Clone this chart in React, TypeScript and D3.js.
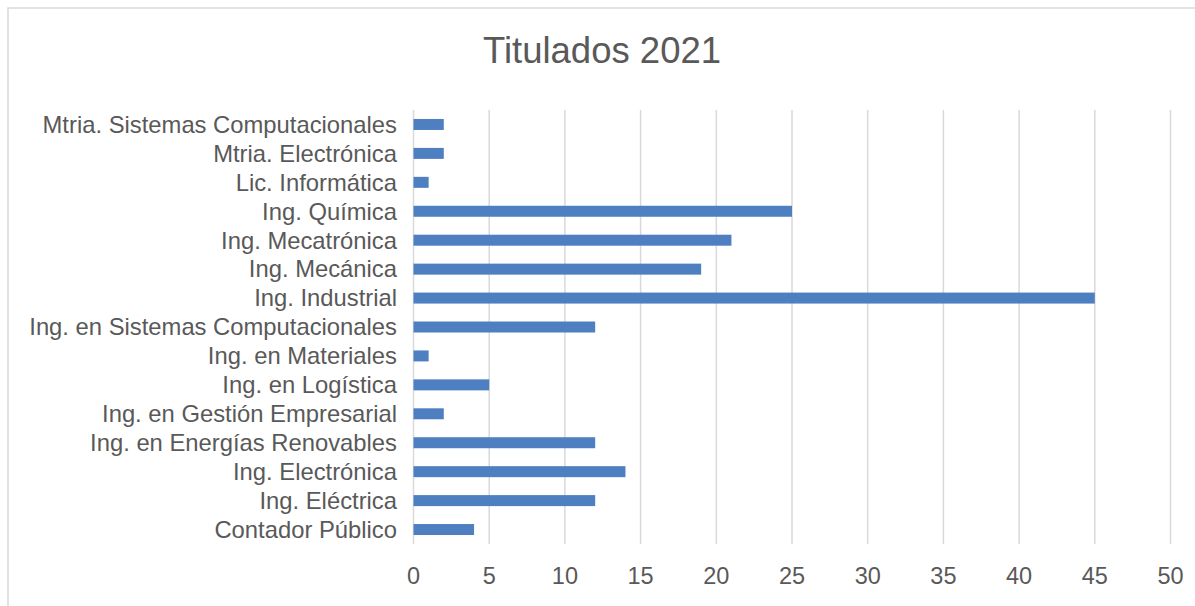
import { useEffect, useRef } from 'react';
import * as d3 from 'd3';

const categories = [
  'Mtria. Sistemas Computacionales',
  'Mtria. Electrónica',
  'Lic. Informática',
  'Ing. Química',
  'Ing. Mecatrónica',
  'Ing. Mecánica',
  'Ing. Industrial',
  'Ing. en Sistemas Computacionales',
  'Ing. en Materiales',
  'Ing. en Logística',
  'Ing. en Gestión Empresarial',
  'Ing. en Energías Renovables',
  'Ing. Electrónica',
  'Ing. Eléctrica',
  'Contador Público',
];
const values = [2, 2, 1, 25, 21, 19, 45, 12, 1, 5, 2, 12, 14, 12, 4];
const xTicks = [0, 5, 10, 15, 20, 25, 30, 35, 40, 45, 50];

const W = 1195;
const H = 606;
const TEXT = '#595959';
const FONT = '"Liberation Sans", Arial, sans-serif';

export default function App() {
  const svgRef = useRef<SVGSVGElement>(null);

  useEffect(() => {
    if (!svgRef.current) return;
    const svg = d3.select(svgRef.current);
    svg.selectAll('*').remove();

    const x = d3.scaleLinear().domain([0, 50]).range([413.5, 1170.5]);
    const y = d3.scaleBand<string>()
      .domain(categories)
      .range([110, 544])
      .paddingInner(0.62)
      .paddingOuter(0.31);

    // chart border
    svg.append('rect')
      .attr('x', 8).attr('y', 8)
      .attr('width', W).attr('height', H)
      .attr('fill', '#fff')
      .attr('stroke', '#d9d9d9')
      .attr('stroke-width', 1.5);

    svg.append('text')
      .attr('x', 602).attr('y', 63)
      .attr('text-anchor', 'middle')
      .attr('font-family', FONT)
      .attr('font-size', 36.5)
      .attr('fill', TEXT)
      .text('Titulados 2021');

    // gridlines
    svg.append('g')
      .selectAll('line')
      .data(xTicks)
      .join('line')
      .attr('x1', d => x(d)).attr('x2', d => x(d))
      .attr('y1', 110).attr('y2', 544)
      .attr('stroke', '#d9d9d9')
      .attr('stroke-width', 1.5);

    svg.append('g')
      .selectAll('rect')
      .data(values)
      .join('rect')
      .attr('x', x(0))
      .attr('y', (_, i) => y(categories[i])!)
      .attr('width', d => x(d) - x(0))
      .attr('height', y.bandwidth())
      .attr('fill', '#4e7fc0');

    svg.append('g')
      .selectAll('text')
      .data(categories)
      .join('text')
      .attr('x', 397)
      .attr('y', d => y(d)! + y.bandwidth() / 2)
      .attr('dy', '0.35em')
      .attr('text-anchor', 'end')
      .attr('font-family', FONT)
      .attr('font-size', 23.8)
      .attr('fill', TEXT)
      .text(d => d);

    svg.append('g')
      .selectAll('text')
      .data(xTicks)
      .join('text')
      .attr('x', d => x(d))
      .attr('y', 576)
      .attr('dy', '0.35em')
      .attr('text-anchor', 'middle')
      .attr('font-family', FONT)
      .attr('font-size', 23.5)
      .attr('fill', TEXT)
      .text(d => d3.format('d')(d));
  }, []);

  return (
    <svg
      ref={svgRef}
      width={W}
      height={H}
      style={{ position: 'absolute', left: 0, top: 0, background: '#fff' }}
    />
  );
}
